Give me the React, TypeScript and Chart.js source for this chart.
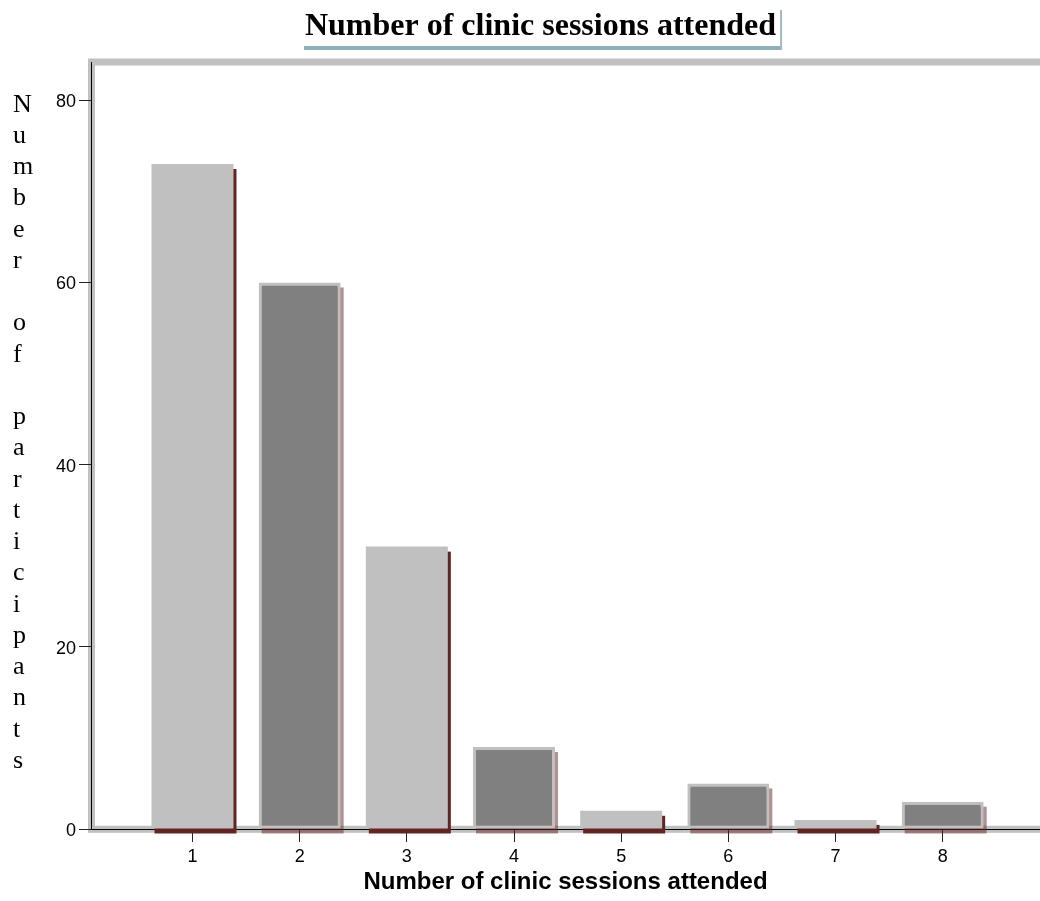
import React, { useEffect, useRef } from "react";
import { Chart, registerables } from "chart.js";

Chart.register(...registerables);

// ---- data ----
const categories = [1, 2, 3, 4, 5, 6, 7, 8];
const counts = [73, 60, 31, 9, 2, 5, 1, 3];
const xTicks = [1, 2, 3, 4, 5, 6, 7, 8];
const yTicks = [0, 20, 40, 60, 80];
const chartTitle = "Number of clinic sessions attended";
const xTitle = "Number of clinic sessions attended";
const yTitle = "Number of participants";

const X_MIN = 0.053;
const X_MAX = 8.908;
const Y_MIN = 0;
const Y_MAX = 84.2;

const LIGHT = "#c0c0c0";
const DARK = "#808080";
const SHADOW_DARK = "#642424";
const SHADOW_LIGHT = "rgba(100,36,36,0.5)";

const decorPlugin = {
  id: "decor",
  beforeDraw(chart: any) {
    const { ctx, chartArea: a } = chart;
    ctx.save();
    ctx.fillStyle = "#ffffff";
    ctx.fillRect(0, 0, chart.width, chart.height);
    ctx.strokeStyle = "#c0c0c0";
    ctx.lineWidth = 7;
    ctx.strokeRect(a.left + 0.5, a.top, a.right - a.left + 40, a.bottom - a.top + 0.3);
    ctx.restore();
  },
  beforeDatasetsDraw(chart: any) {
    const { ctx } = chart;
    const meta = chart.getDatasetMeta(0);
    ctx.save();
    meta.data.forEach((el: any, i: number) => {
      const { x, y, base, width } = el.getProps(["x", "y", "base", "width"], true);
      ctx.fillStyle = i % 2 === 0 ? SHADOW_DARK : SHADOW_LIGHT;
      ctx.fillRect(x - width / 2 + 3, y + 5, width, base - y);
    });
    ctx.restore();
  },
  afterDraw(chart: any) {
    const { ctx, chartArea: a } = chart;
    ctx.save();
    // main title
    ctx.font = 'bold 32px "Liberation Serif", "Times New Roman", serif';
    ctx.fillStyle = "#000";
    ctx.textAlign = "center";
    ctx.textBaseline = "alphabetic";
    const tx = 540.5;
    ctx.fillText(chartTitle, tx, 35);
    const tw = ctx.measureText(chartTitle).width;
    const left = tx - tw / 2 - 1;
    const right = tx + tw / 2 + 6;
    ctx.fillStyle = "#8fb0b8";
    ctx.fillRect(left, 46, right - left, 4);
    ctx.fillStyle = "#a3bac1";
    ctx.fillRect(right - 2, 10, 2, 40);

    // x axis title
    ctx.fillStyle = "#000";
    ctx.font = 'bold 24px "Liberation Sans", Arial, sans-serif';
    ctx.textAlign = "center";
    ctx.fillText(xTitle, (a.left + a.right) / 2, 889);

    // y axis title, stacked letters
    ctx.font = '26px "Liberation Serif", "Times New Roman", serif';
    ctx.textAlign = "left";
    const letters = yTitle.split("");
    letters.forEach((ch, i) => {
      if (ch !== " ") ctx.fillText(ch, 13, 111.7 + i * 31.25);
    });
    ctx.restore();
  },
};

export default function App() {
  const ref = useRef<HTMLCanvasElement | null>(null);

  useEffect(() => {
    if (!ref.current) return;
    const chart = new Chart(ref.current, {
      type: "bar",
      data: {
        datasets: [
          {
            data: categories.map((c, i) => ({ x: c, y: counts[i] })),
            backgroundColor: counts.map((_, i) => (i % 2 === 0 ? LIGHT : DARK)),
            borderColor: counts.map((_, i) => (i % 2 === 0 ? "rgba(0,0,0,0)" : LIGHT)),
            borderWidth: counts.map((_, i) => (i % 2 === 0 ? 0 : 3)),
            borderSkipped: false,
            barPercentage: 0.765,
            categoryPercentage: 1,
          } as any,
        ],
      },
      options: {
        responsive: false,
        animation: false,
        devicePixelRatio: 1,
        layout: { padding: { top: 62, right: 0, left: 0, bottom: 0 } },
        plugins: {
          legend: { display: false },
          tooltip: { enabled: false },
          title: { display: false },
        },
        scales: {
          x: {
            type: "linear",
            min: X_MIN,
            max: X_MAX,
            offset: false,
            afterFit: (s: any) => {
              s.height = 72;
            },
            afterBuildTicks: (s: any) => {
              s.ticks = xTicks.map((v) => ({ value: v }));
            },
            grid: {
              display: true,
              drawOnChartArea: false,
              drawTicks: true,
              tickLength: 13,
              color: "#222",
              offset: false,
            },
            border: { display: true, color: "#000", width: 1 },
            ticks: {
              autoSkip: false,
              maxRotation: 0,
              padding: 4,
              color: "#000",
              font: { family: '"Liberation Sans", Arial, sans-serif', size: 18 },
              callback: (v: any) => String(v),
            },
          },
          y: {
            type: "linear",
            min: Y_MIN,
            max: Y_MAX,
            afterFit: (s: any) => {
              s.width = 91;
            },
            afterBuildTicks: (s: any) => {
              s.ticks = yTicks.map((v) => ({ value: v }));
            },
            grid: {
              display: true,
              drawOnChartArea: false,
              drawTicks: true,
              tickLength: 12,
              color: "#222",
            },
            border: { display: true, color: "#000", width: 1 },
            ticks: {
              autoSkip: false,
              padding: 3,
              labelOffset: 2,
              color: "#000",
              font: { family: '"Liberation Sans", Arial, sans-serif', size: 18 },
              callback: (v: any) => String(v),
            },
          },
        },
      } as any,
      plugins: [decorPlugin],
    });
    return () => chart.destroy();
  }, []);

  return (
    <div style={{ position: "absolute", left: 0, top: 0, width: 1040, height: 901 }}>
      <canvas ref={ref} width={1040} height={901} style={{ display: "block" }} />
    </div>
  );
}
